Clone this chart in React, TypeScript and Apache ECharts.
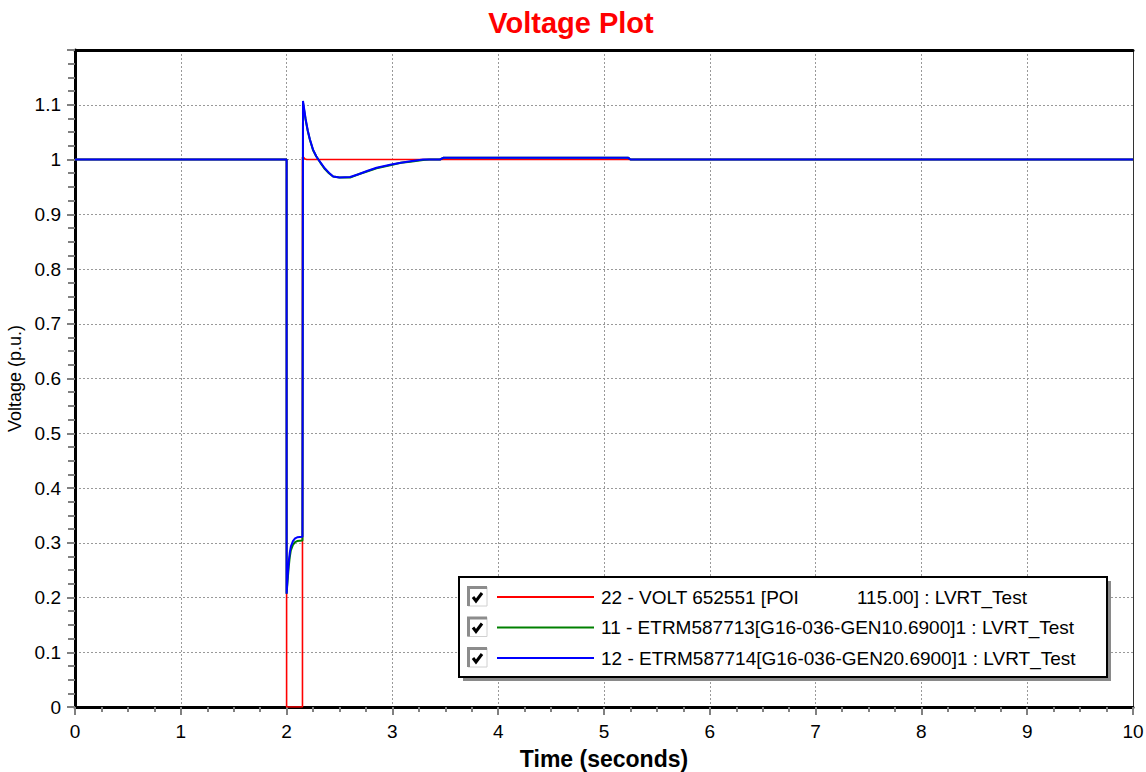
import React, { useEffect, useRef } from "react";
import * as echarts from "echarts";

const FONT = "'Liberation Sans', Arial, sans-serif";

const seriesNames = [
  "22 - VOLT 652551 [POI           115.00] : LVRT_Test",
  "11 - ETRM587713[G16-036-GEN10.6900]1 : LVRT_Test",
  "12 - ETRM587714[G16-036-GEN20.6900]1 : LVRT_Test",
];
const seriesColors = ["#ff0000", "#008000", "#0000ff"];

const redTime = [0, 2.0, 2.0, 2.15, 2.15, 2.16, 2.175, 2.19, 10];
const redVolt = [1.0, 1.0, 0.0, 0.0, 1.004, 1.004, 1.001, 1.0, 1.0];

const genTime = [
  0, 2.0, 2.0, 2.01, 2.02, 2.03, 2.04, 2.06, 2.08, 2.1, 2.15, 2.155, 2.165,
  2.18, 2.2, 2.22, 2.25, 2.28, 2.3, 2.33, 2.36, 2.4, 2.44, 2.5, 2.6, 2.68,
  2.76, 2.85, 2.99, 3.08, 3.17, 3.29, 3.35, 3.45, 3.48, 5.23, 5.25, 10,
];
const greenVolt = [
  1.0, 1.0, 0.207, 0.232, 0.256, 0.274, 0.286, 0.296, 0.301, 0.303, 0.304,
  1.104, 1.091, 1.072, 1.052, 1.036, 1.017, 1.006, 1.0, 0.991, 0.983, 0.975,
  0.969, 0.967, 0.967, 0.973, 0.978, 0.984, 0.99, 0.994, 0.996, 0.999, 1.0,
  1.0, 1.003, 1.003, 1.0, 1.0,
];
const blueVolt = [
  1.0, 1.0, 0.207, 0.24, 0.265, 0.282, 0.293, 0.303, 0.308, 0.31, 0.311, 1.107,
  1.094, 1.074, 1.053, 1.037, 1.018, 1.006, 1.0, 0.992, 0.984, 0.976, 0.969,
  0.967, 0.968, 0.973, 0.979, 0.985, 0.991, 0.994, 0.997, 1.0, 1.0, 1.0, 1.003,
  1.003, 1.0, 1.0,
];

const xTitle = "Time (seconds)";
const yTitle = "Voltage (p.u.)";
const chartTitle = "Voltage Plot";

function pairs(t: number[], v: number[]) {
  return t.map((x, i) => [x, v[i]]);
}

export default function App() {
  const ref = useRef<HTMLDivElement>(null);
  useEffect(() => {
    if (!ref.current) return;
    const chart = echarts.init(ref.current, undefined, { renderer: "svg" });

    const lx = 459, ly = 577, lw = 648, lh = 100;
    const rowY = [597, 627.5, 658];
    const legendEls: any[] = [
      { type: "rect", shape: { x: lx + 4, y: ly + 4, width: lw, height: lh }, style: { fill: "#8a8a8a" }, z: 100 },
      { type: "rect", shape: { x: lx, y: ly, width: lw, height: lh }, style: { fill: "#ffffff", stroke: "#000000", lineWidth: 2 }, z: 101 },
    ];
    seriesNames.forEach((name, i) => {
      const cy = rowY[i];
      legendEls.push(
        { type: "rect", shape: { x: 468, y: cy - 10, width: 19, height: 19 }, style: { fill: "#ffffff", stroke: "#d0d0d0", lineWidth: 1 }, z: 102 },
        { type: "polyline", shape: { points: [[468.5, cy + 9], [468.5, cy - 9.5], [487, cy - 9.5]] }, style: { stroke: "#8c8c8c", lineWidth: 3, fill: null }, z: 103 },
        { type: "polyline", shape: { points: [[473, cy], [476, cy + 4], [482, cy - 4]] }, style: { stroke: "#000000", lineWidth: 3, fill: null }, z: 103 },
        { type: "line", shape: { x1: 497, y1: cy, x2: 594, y2: cy }, style: { stroke: seriesColors[i], lineWidth: 2 }, z: 102 },
        { type: "text", x: 601, y: cy, style: { text: name, fill: "#000", font: `19px ${FONT}`, verticalAlign: "middle", align: "left" }, z: 102 }
      );
    });

    chart.setOption({
      animation: false,
      backgroundColor: "#ffffff",
      title: {
        text: chartTitle,
        left: 566,
        textAlign: "center",
        top: 3,
        textStyle: { color: "#ff0000", fontSize: 29, fontWeight: "bold", fontFamily: FONT },
      },
      grid: { left: 75, right: 13, top: 50, bottom: 65, containLabel: false, outerBoundsMode: "none" },
      xAxis: [
        {
          type: "value",
          min: 0,
          max: 10,
          interval: 1,
          name: xTitle,
          nameLocation: "middle",
          nameGap: 40,
          nameTextStyle: { fontSize: 23, fontWeight: "bold", color: "#000", fontFamily: FONT },
          axisLine: { show: true, onZero: false, lineStyle: { color: "#000", width: 3 } },
          axisTick: { show: true, length: 8, lineStyle: { color: "#808080", width: 2 } },
          minorTick: { show: true, splitNumber: 4, length: 5, lineStyle: { color: "#808080", width: 2 } },
          axisLabel: { fontSize: 19, color: "#000", fontFamily: FONT, margin: 15 },
          splitLine: { show: true, lineStyle: { color: "#999", type: [2, 2], width: 1 } },
        },
        {
          type: "value",
          position: "top",
          min: 0,
          max: 10,
          interval: 1,
          axisLine: { show: true, onZero: false, lineStyle: { color: "#000", width: 3 } },
          axisTick: { show: false },
          axisLabel: { show: false },
          splitLine: { show: false },
        },
      ],
      yAxis: [
        {
          type: "value",
          min: 0,
          max: 1.2,
          interval: 0.1,
          name: yTitle,
          nameLocation: "middle",
          nameGap: 48,
          nameRotate: 90,
          nameTextStyle: { fontSize: 18, color: "#000", fontFamily: FONT },
          axisLine: { show: true, onZero: false, lineStyle: { color: "#000", width: 3 } },
          axisTick: { show: true, length: 8, lineStyle: { color: "#808080", width: 2 } },
          minorTick: { show: true, splitNumber: 4, length: 7, lineStyle: { color: "#808080", width: 2 } },
          axisLabel: {
            fontSize: 19,
            color: "#000",
            fontFamily: FONT,
            margin: 14,
            formatter: (v: number) => (v > 1.15 ? "" : String(Math.round(v * 10) / 10)),
          },
          splitLine: { show: true, lineStyle: { color: "#999", type: [2, 2], width: 1 } },
        },
        {
          type: "value",
          position: "right",
          min: 0,
          max: 1.2,
          interval: 0.1,
          axisLine: { show: true, onZero: false, lineStyle: { color: "#333", width: 1 } },
          axisTick: { show: false },
          axisLabel: { show: false },
          splitLine: { show: false },
        },
      ],
      series: [
        {
          name: seriesNames[0],
          type: "line",
          data: pairs(redTime, redVolt),
          showSymbol: false,
          lineStyle: { color: seriesColors[0], width: 1.6 },
          itemStyle: { color: seriesColors[0] },
          z: 3,
        },
        {
          name: seriesNames[1],
          type: "line",
          data: pairs(genTime, greenVolt),
          showSymbol: false,
          lineStyle: { color: seriesColors[1], width: 2 },
          itemStyle: { color: seriesColors[1] },
          z: 4,
        },
        {
          name: seriesNames[2],
          type: "line",
          data: pairs(genTime, blueVolt),
          showSymbol: false,
          lineStyle: { color: seriesColors[2], width: 2 },
          itemStyle: { color: seriesColors[2] },
          z: 5,
        },
      ],
      graphic: legendEls,
    });
    return () => chart.dispose();
  }, []);
  return (
    <div
      ref={ref}
      style={{ position: "absolute", left: 0, top: 0, width: 1146, height: 772 }}
    />
  );
}
